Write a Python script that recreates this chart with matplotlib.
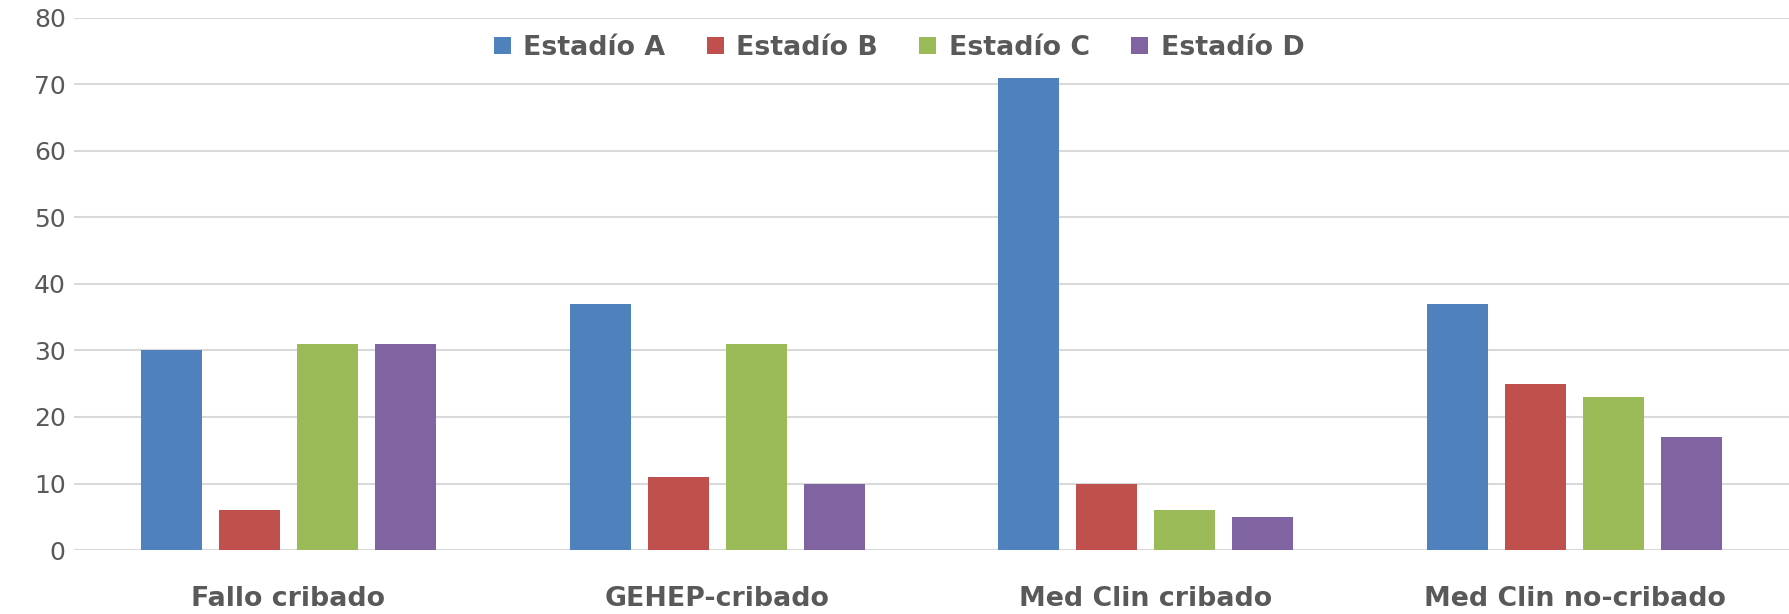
import numpy as np
import matplotlib
matplotlib.use("Agg")
import matplotlib.pyplot as plt

# data
categories = ['Fallo cribado', 'GEHEP-cribado', 'Med Clin cribado', 'Med Clin no-cribado']
series_names = ['Estadío A', 'Estadío B', 'Estadío C', 'Estadío D']
estadio_a = [30, 37, 71, 37]
estadio_b = [6, 11, 10, 25]
estadio_c = [31, 31, 6, 23]
estadio_d = [31, 10, 5, 17]
colors = ['#4F81BD', '#C0504D', '#9BBB59', '#8064A2']
y_ticks = [0, 10, 20, 30, 40, 50, 60, 70, 80]

plt.rcParams['font.family'] = 'DejaVu Sans'
text_color = '#595959'

fig = plt.figure(figsize=(17.9, 6.14), dpi=100)
ax = fig.add_axes([74 / 1790, 64 / 614, 1715 / 1790, 532 / 614])

x = np.arange(len(categories))
step = 0.182
width = 0.1423
all_series = [estadio_a, estadio_b, estadio_c, estadio_d]
for i, (vals, name, col) in enumerate(zip(all_series, series_names, colors)):
    ax.bar(x + (i - 1.5) * step, vals, width, color=col, label=name, zorder=3)

ax.set_xlim(-0.5, len(categories) - 0.5)
ax.set_ylim(0, 80)
ax.set_yticks(y_ticks)
ax.yaxis.grid(True, color='#D9D9D9', linewidth=1.5, zorder=0)
ax.set_axisbelow(True)
for s in ax.spines.values():
    s.set_visible(False)

ax.set_xticks(x)
ax.set_xticklabels(categories, fontsize=19.3, fontweight='bold', color=text_color)
ax.tick_params(axis='x', length=0, pad=26)
ax.tick_params(axis='y', length=0, pad=6, labelsize=18, labelcolor=text_color)

leg = ax.legend(loc='center', bbox_to_anchor=(0.481, 0.9436), ncol=4, frameon=False,
                handlelength=0.64, handleheight=0.64, handletextpad=0.47,
                columnspacing=1.53, borderpad=0,
                prop={'size': 19.3, 'weight': 'bold'})
for t in leg.get_texts():
    t.set_color(text_color)

fig.savefig('out.png', dpi=100, facecolor='white')
